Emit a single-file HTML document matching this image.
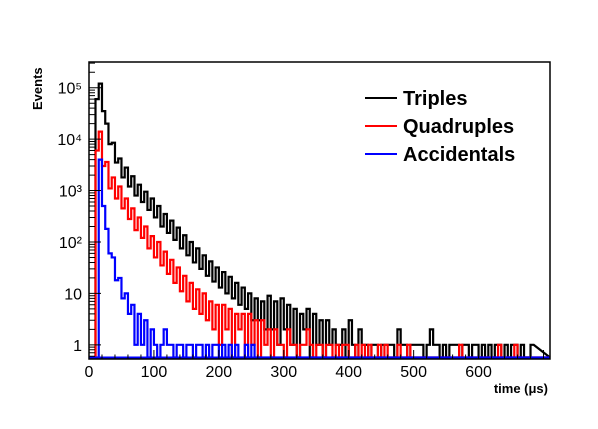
<!DOCTYPE html>
<html><head><meta charset="utf-8"><style>
body{margin:0;background:#fff;}
svg text{font-family:"Liberation Sans",Arial,sans-serif;}
</style></head><body>
<svg id="c" width="598" height="424" xmlns="http://www.w3.org/2000/svg">
<rect width="598" height="424" fill="#fff"/>
<g id="series"></g>
<g id="axes"></g>
<text x="548" y="393" text-anchor="end" font-size="13" font-weight="bold">time (μs)</text>
<text transform="translate(42,110) rotate(-90)" text-anchor="start" font-size="13" font-weight="bold">Events</text>
<g>
<g><line x1="365" y1="98" x2="397" y2="98" stroke="#000" stroke-width="2"/><text x="403" y="105" font-size="20" font-weight="bold">Triples</text></g>
<g><line x1="365" y1="126" x2="397" y2="126" stroke="#f00" stroke-width="2"/><text x="403" y="133" font-size="20" font-weight="bold">Quadruples</text></g>
<g><line x1="365" y1="154" x2="397" y2="154" stroke="#00f" stroke-width="2"/><text x="403" y="161" font-size="20" font-weight="bold">Accidentals</text></g>
</g>
</svg>
<script>
const binStart = 10, binWidth = 5;
const triples = [60000,120000,35000,20000,8000,8500,3500,4200,1800,2800,1200,1900,800,1300,600,950,420,700,300,500,200,350,150,260,110,190,75,135,55,100,40,75,30,55,22,42,17,32,13,26,10,21,8,16,6,13,5,10,3,8,3,7,2,9,2,7,1,8,2,6,1,5,0,4,2,5,0,4,1,3,0,3,1,2,1,1,2,0,3,1,0,2,1,1,0,1,1,0,1,1,1,1,0,2,1,1,0,1,1,1,1,0,1,2,1,1,0,1,0,1,1,1,0,1,1,0,1,1,0,1,0,1,0,1,1,0,1,0,1,1,0,1,0,0,1];
const quadruples = [6000,14000,3000,3600,1100,1800,700,1200,450,700,280,450,170,300,120,200,75,130,50,100,35,65,24,45,16,32,11,22,7,16,5,12,4,10,3,7,2,6,1,6,2,5,0,4,2,4,0,4,1,3,0,3,1,2,0,2,1,1,0,2,1,1,0,1,1,2,1,0,1,1,0,1,1,0,1,0,1,1,0,0,1,0,1,0,1,0,0,1,0,1,0,0,0,1,0,0,1,0,0,0,0,0,0,0,0,0,0,0,0,0,0,0,1,0,0,0,0,0,0,0,0,0,0,0,1,0,0,0,0,1,0,0,0];
const accidentals = [0,4000,500,180,60,50,18,20,8,10,4,6,1,4,1,3,0,2,1,0,1,2,1,1,0,1,1,0,1,1,0,1,1,0,1,0,1,1,0,1,0,1,0,1,0,0,1,0,1,0];
const xTicks = [0,100,200,300,400,500,600];
const yTickExps = [0,1,2,3,4,5];
const yTickLabels = ["1","10","10²","10³","10⁴","10⁵"];

const X0=89,X1=550,Y0=62,Y1=359, XMAX=710;
const LMIN=Math.log10(0.53), LMAX=5.5;
const sx = t => X0 + (t/XMAX)*(X1-X0);
const sy = v => v<=0.53 ? Y1-1.5 : Y1 - (Math.log10(v)-LMIN)/(LMAX-LMIN)*(Y1-Y0);
const NS="http://www.w3.org/2000/svg";
const sg=document.getElementById('series'), ag=document.getElementById('axes');
function draw(vals,color,name){
  let d=`M${sx(binStart)},${Y1-1.5}`;
  vals.forEach((v,i)=>{const a=sx(binStart+i*binWidth),b=sx(binStart+(i+1)*binWidth),y=sy(v);d+=`L${a},${y}L${b},${y}`;});
  d+=`L${X1},${Y1-1.5}`;
  const p=document.createElementNS(NS,'path');
  p.setAttribute('d',d);p.setAttribute('fill','none');p.setAttribute('stroke',color);p.setAttribute('stroke-width','2.2');
  
  
  sg.appendChild(p);
}
draw(triples,'#000','series-triples');
draw(quadruples,'#f00','series-quadruples');
draw(accidentals,'#00f','series-accidentals');
const bl=document.createElementNS(NS,'line');
bl.setAttribute('x1',sx(0));bl.setAttribute('x2',X1);bl.setAttribute('y1',Y1-1.5);bl.setAttribute('y2',Y1-1.5);bl.setAttribute('stroke','#00f');bl.setAttribute('stroke-width','2');


sg.appendChild(bl);
const fr=document.createElementNS(NS,'rect');
fr.setAttribute('x',X0);fr.setAttribute('y',Y0);fr.setAttribute('width',X1-X0);fr.setAttribute('height',Y1-Y0);fr.setAttribute('fill','none');fr.setAttribute('stroke','#000');fr.setAttribute('stroke-width','1.5');


ag.appendChild(fr);
let td='';
for(let t=0;t<=XMAX;t+=20){const x=sx(t);td+=`M${x},${Y1}L${x},${Y1-(t%100===0?9:4.5)}`;}
for(let e=-1;e<=5;e++)for(let m=1;m<10;m++){const v=m*Math.pow(10,e);const l=Math.log10(v);if(l<LMIN||l>LMAX)continue;const y=sy(v);td+=`M${X0},${y}L${X0+(m===1?12:6)},${y}`;}
const tp=document.createElementNS(NS,'path');tp.setAttribute('d',td);tp.setAttribute('stroke','#000');tp.setAttribute('stroke-width','1');


ag.appendChild(tp);
xTicks.forEach(t=>{const tx=document.createElementNS(NS,'text');tx.setAttribute('x',sx(t));tx.setAttribute('y',377);tx.setAttribute('text-anchor','middle');tx.setAttribute('font-size','16');tx.textContent=t;


ag.appendChild(tx);});
yTickExps.forEach((e,i)=>{const tx=document.createElementNS(NS,'text');tx.setAttribute('x',82);tx.setAttribute('y',sy(Math.pow(10,e))+6);tx.setAttribute('text-anchor','end');tx.setAttribute('font-size','16');tx.textContent=yTickLabels[i];


ag.appendChild(tx);});
</script>
</body></html>
